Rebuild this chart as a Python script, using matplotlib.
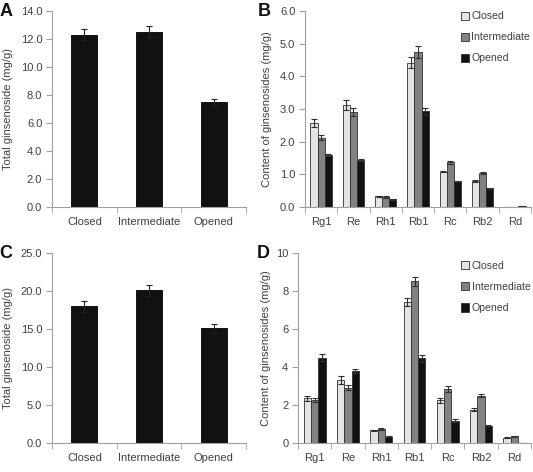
import matplotlib.pyplot as plt
import numpy as np

plt.rcParams['font.family'] = ['Liberation Sans', 'DejaVu Sans']

stages = ["Closed", "Intermediate", "Opened"]
compounds = ["Rg1", "Re", "Rh1", "Rb1", "Rc", "Rb2", "Rd"]

# panel A: total ginsenoside
total_a = [12.3, 12.5, 7.5]
total_a_err = [0.4, 0.4, 0.2]
# panel B: individual ginsenosides
closed_b = [2.58, 3.12, 0.33, 4.42, 1.08, 0.80, 0.0]
closed_b_err = [0.12, 0.15, 0.02, 0.16, 0.02, 0.02, 0.0]
inter_b = [2.12, 2.90, 0.31, 4.75, 1.37, 1.03, 0.0]
inter_b_err = [0.07, 0.12, 0.02, 0.18, 0.05, 0.03, 0.0]
opened_b = [1.60, 1.43, 0.23, 2.93, 0.79, 0.57, 0.02]
opened_b_err = [0.03, 0.03, 0.03, 0.10, 0.02, 0.01, 0.0]
# panel C
total_c = [18.0, 20.1, 15.1]
total_c_err = [0.7, 0.7, 0.6]
# panel D
closed_d = [2.35, 3.32, 0.68, 7.42, 2.25, 1.75, 0.28]
closed_d_err = [0.12, 0.20, 0.03, 0.22, 0.12, 0.08, 0.02]
inter_d = [2.27, 2.92, 0.74, 8.52, 2.85, 2.48, 0.35]
inter_d_err = [0.10, 0.15, 0.03, 0.24, 0.15, 0.08, 0.02]
opened_d = [4.50, 3.78, 0.33, 4.45, 1.18, 0.90, 0.0]
opened_d_err = [0.20, 0.12, 0.04, 0.20, 0.08, 0.03, 0.0]

COLS = ["#e4e4e4", "#828282", "#111111"]
TXT = "#404040"
AXC = "#a0a0a0"

W, H = 533, 472
fig = plt.figure(figsize=(W / 100, H / 100), dpi=100)


def axes_px(l, r, t, b):
    return fig.add_axes([l / W, 1 - b / H, (r - l) / W, (b - t) / H])


def style(ax, ymax, step, fmt, ylabel):
    for s in ["top", "right"]:
        ax.spines[s].set_visible(False)
    for s in ["left", "bottom"]:
        ax.spines[s].set_color(AXC)
        ax.spines[s].set_linewidth(0.8)
    ax.set_ylim(0, ymax)
    ticks = np.arange(0, ymax + step / 2, step)
    ax.set_yticks(ticks)
    ax.set_yticklabels([fmt.format(t) for t in ticks])
    ax.tick_params(axis="y", direction="out", length=4, color=AXC,
                   labelsize=8, labelcolor=TXT, pad=3)
    ax.tick_params(axis="x", which="both", length=0, labelsize=8,
                   labelcolor=TXT, pad=7)
    ax.tick_params(axis="x", which="minor", length=4, color=AXC, direction="out")
    ax.set_ylabel(ylabel, fontsize=8, color=TXT)


def total_panel(ax, vals, errs, ymax, step, letter):
    x = np.arange(len(stages))
    ax.bar(x, vals, width=0.4, color="#111111", edgecolor="#000000", lw=0.6,
           yerr=errs, error_kw=dict(ecolor="#222222", elinewidth=0.8,
                                    capsize=2.5, capthick=0.8))
    ax.set_xlim(-0.5, len(stages) - 0.5)
    ax.set_xticks(x)
    ax.set_xticklabels(stages)
    ax.set_xticks(np.arange(-0.5, len(stages), 1.0), minor=True)
    style(ax, ymax, step, "{:.1f}", "Total ginsenoside (mg/g)")
    ax.yaxis.set_label_coords(-0.2, 0.5)
    ax.text(-0.27, 1.0, letter, transform=ax.transAxes, fontsize=13,
            fontweight="bold", ha="left", va="center", color="#111111")


def group_panel(ax, series, errs, ymax, step, fmt, legend_y):
    x = np.arange(len(compounds))
    w = 0.22
    for i, (vals, err) in enumerate(zip(series, errs)):
        ax.bar(x + (i - 1) * w, vals, width=w, color=COLS[i],
               edgecolor="#303030", lw=0.6, label=stages[i],
               yerr=err, error_kw=dict(ecolor="#303030", elinewidth=0.8,
                                       capsize=2, capthick=0.8))
    ax.set_xlim(-0.5, len(compounds) - 0.5)
    ax.set_xticks(x)
    ax.set_xticklabels(compounds)
    ax.set_xticks(np.arange(-0.5, len(compounds), 1.0), minor=True)
    style(ax, ymax, step, fmt, "Content of ginsenosides (mg/g)")
    leg = ax.legend(loc="upper right", bbox_to_anchor=(1.015, legend_y),
                    frameon=False, fontsize=7.6, handlelength=0.8,
                    handleheight=0.8, handletextpad=0.2, labelspacing=1.05,
                    borderaxespad=0)
    for t in leg.get_texts():
        t.set_color(TXT)
    return ax


ax_a = axes_px(52, 246, 11, 207)
total_panel(ax_a, total_a, total_a_err, 14.0, 2.0, "A")

ax_b = axes_px(305, 531, 11, 207)
group_panel(ax_b, [closed_b, inter_b, opened_b],
            [closed_b_err, inter_b_err, opened_b_err], 6.0, 1.0, "{:.1f}", 1.02)
ax_b.yaxis.set_label_coords(-0.145, 0.5)
ax_b.text(-0.21, 1.0, "B", transform=ax_b.transAxes, fontsize=13,
          fontweight="bold", ha="left", va="center", color="#111111")

ax_c = axes_px(52, 246, 253, 443)
total_panel(ax_c, total_c, total_c_err, 25.0, 5.0, "C")

ax_d = axes_px(298, 531, 253, 443)
group_panel(ax_d, [closed_d, inter_d, opened_d],
            [closed_d_err, inter_d_err, opened_d_err], 10, 2, "{:.0f}", 0.98)
ax_d.yaxis.set_label_coords(-0.115, 0.5)
ax_d.text(-0.175, 1.0, "D", transform=ax_d.transAxes, fontsize=13,
          fontweight="bold", ha="left", va="center", color="#111111")

fig.savefig("out.png", dpi=100)
